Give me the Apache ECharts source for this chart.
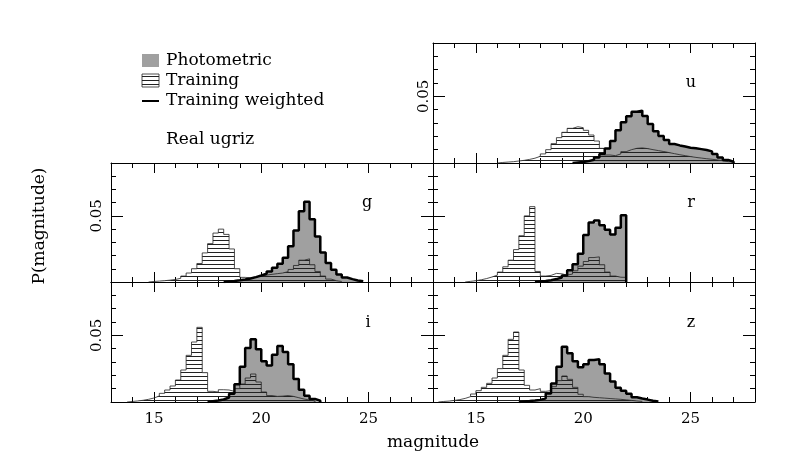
<!DOCTYPE html>
<html>
<head>
<meta charset="utf-8">
<script src="https://cdn.jsdelivr.net/npm/echarts@6/dist/echarts.min.js"></script>
<style>
  html, body { margin: 0; padding: 0; background: #fff; }
  #chart { width: 797px; height: 464px; }
</style>
</head>
<body>
<div id="chart"></div>
<script>
// histogram bin width in magnitudes
var BIN = 0.25;
var bands = ['u', 'g', 'r', 'i', 'z'];
var xTicksMajor = [15, 20, 25];
var yTicksMajor = [0.05];

// first bin edge of each histogram, band order u g r i z
var photoStart = [19.5, 18.25, 17.75, 17.5, 17.0];
var trainStart = [16.0, 14.75, 14.5, 13.75, 13.25];
var weightStart = [19.5, 18.25, 17.75, 17.5, 17.0];

// Photometric
var photoU = [0.0003, 0.0007, 0.0012, 0.0022, 0.0040, 0.0065, 0.0105, 0.0160, 0.0240, 0.0300, 0.0345, 0.0380, 0.0390, 0.0350, 0.0290, 0.0235, 0.0200, 0.0170, 0.0140, 0.0130, 0.0122, 0.0113, 0.0108, 0.0102, 0.0095, 0.0085, 0.0065, 0.0040, 0.0022, 0.0008];
var photoG = [0.0003, 0.0007, 0.0012, 0.0018, 0.0026, 0.0035, 0.0047, 0.0060, 0.0078, 0.0105, 0.0135, 0.0180, 0.0265, 0.0385, 0.0530, 0.0600, 0.0470, 0.0340, 0.0220, 0.0140, 0.0090, 0.0055, 0.0033, 0.0022, 0.0012, 0.0005];
var photoR = [0.0003, 0.0007, 0.0013, 0.0020, 0.0032, 0.0048, 0.0085, 0.0130, 0.0210, 0.0350, 0.0445, 0.0460, 0.0425, 0.0390, 0.0355, 0.0405, 0.0500];
var photoI = [0.0005, 0.0010, 0.0018, 0.0032, 0.0060, 0.0130, 0.0260, 0.0400, 0.0465, 0.0390, 0.0300, 0.0270, 0.0350, 0.0415, 0.0370, 0.0280, 0.0170, 0.0090, 0.0045, 0.0022, 0.0008];
var photoZ = [0.0003, 0.0006, 0.0010, 0.0014, 0.0025, 0.0060, 0.0135, 0.0260, 0.0410, 0.0360, 0.0300, 0.0255, 0.0280, 0.0310, 0.0315, 0.0280, 0.0210, 0.0150, 0.0105, 0.0082, 0.0060, 0.0035, 0.0025, 0.0018, 0.0008, 0.0003];

// Training
var trainU = [0.0004, 0.0007, 0.0010, 0.0015, 0.0020, 0.0027, 0.0036, 0.0050, 0.0068, 0.0100, 0.0145, 0.0190, 0.0230, 0.0260, 0.0272, 0.0265, 0.0245, 0.0210, 0.0165, 0.0110, 0.0060, 0.0055, 0.0068, 0.0085, 0.0100, 0.0110, 0.0113, 0.0108, 0.0100, 0.0093, 0.0086, 0.0078, 0.0070, 0.0062, 0.0055, 0.0048, 0.0042, 0.0037, 0.0032, 0.0028, 0.0023, 0.0017, 0.0010, 0.0004];
var trainG = [0.0004, 0.0007, 0.0010, 0.0014, 0.0019, 0.0028, 0.0045, 0.0068, 0.0100, 0.0140, 0.0220, 0.0290, 0.0370, 0.0400, 0.0360, 0.0250, 0.0100, 0.0035, 0.0032, 0.0038, 0.0045, 0.0052, 0.0058, 0.0063, 0.0068, 0.0078, 0.0095, 0.0125, 0.0165, 0.0175, 0.0130, 0.0080, 0.0045, 0.0022, 0.0010, 0.0004];
var trainR = [0.0005, 0.0010, 0.0017, 0.0026, 0.0038, 0.0052, 0.0075, 0.0115, 0.0165, 0.0245, 0.0350, 0.0500, 0.0570, 0.0080, 0.0045, 0.0050, 0.0065, 0.0062, 0.0052, 0.0060, 0.0085, 0.0120, 0.0155, 0.0185, 0.0190, 0.0130, 0.0075, 0.0045, 0.0036, 0.0035];
var trainI = [0.0004, 0.0008, 0.0013, 0.0020, 0.0030, 0.0045, 0.0065, 0.0090, 0.0120, 0.0165, 0.0240, 0.0350, 0.0450, 0.0560, 0.0220, 0.0080, 0.0075, 0.0092, 0.0090, 0.0080, 0.0100, 0.0135, 0.0180, 0.0210, 0.0150, 0.0075, 0.0048, 0.0042, 0.0044, 0.0048, 0.0042, 0.0032, 0.0022, 0.0015, 0.0008];
var trainZ = [0.0004, 0.0007, 0.0012, 0.0018, 0.0027, 0.0040, 0.0060, 0.0085, 0.0110, 0.0140, 0.0180, 0.0250, 0.0350, 0.0470, 0.0525, 0.0240, 0.0125, 0.0090, 0.0100, 0.0080, 0.0085, 0.0115, 0.0160, 0.0195, 0.0170, 0.0110, 0.0058, 0.0040, 0.0035, 0.0032, 0.0029, 0.0026, 0.0023, 0.0020, 0.0016, 0.0012, 0.0008, 0.0004];

// Training weighted
var weightU = [0.0004, 0.0008, 0.0014, 0.0024, 0.0042, 0.0068, 0.0108, 0.0165, 0.0245, 0.0305, 0.0350, 0.0384, 0.0393, 0.0352, 0.0292, 0.0238, 0.0203, 0.0172, 0.0142, 0.0132, 0.0124, 0.0115, 0.0110, 0.0104, 0.0097, 0.0087, 0.0067, 0.0042, 0.0023, 0.0009];
var weightG = [0.0004, 0.0008, 0.0013, 0.0019, 0.0027, 0.0037, 0.0049, 0.0062, 0.0080, 0.0108, 0.0138, 0.0184, 0.0270, 0.0390, 0.0536, 0.0606, 0.0475, 0.0344, 0.0224, 0.0143, 0.0092, 0.0056, 0.0034, 0.0022, 0.0012, 0.0005];
var weightR = [0.0004, 0.0008, 0.0014, 0.0022, 0.0034, 0.0050, 0.0088, 0.0134, 0.0214, 0.0355, 0.0450, 0.0466, 0.0430, 0.0395, 0.0360, 0.0410, 0.0505];
var weightI = [0.0006, 0.0011, 0.0019, 0.0034, 0.0062, 0.0134, 0.0265, 0.0405, 0.0470, 0.0395, 0.0305, 0.0274, 0.0355, 0.0420, 0.0375, 0.0284, 0.0173, 0.0092, 0.0046, 0.0023, 0.0009];
var weightZ = [0.0004, 0.0007, 0.0011, 0.0016, 0.0027, 0.0063, 0.0138, 0.0265, 0.0415, 0.0365, 0.0305, 0.0260, 0.0284, 0.0315, 0.0320, 0.0284, 0.0214, 0.0153, 0.0107, 0.0084, 0.0061, 0.0036, 0.0026, 0.0018, 0.0009, 0.0004];

var photoData = [photoU, photoG, photoR, photoI, photoZ];
var trainData = [trainU, trainG, trainR, trainI, trainZ];
var weightData = [weightU, weightG, weightR, weightI, weightZ];

// panel placement: u top right, g r middle, i z bottom
var panels = [
  { left: 433, top: 43, height: 120, xLabel: false, yLabel: true, yMargin: 1, letter: [691, 83] },
  { left: 111, top: 163, height: 119, xLabel: false, yLabel: true, yMargin: 6, letter: [367, 203] },
  { left: 433, top: 163, height: 119, xLabel: false, yLabel: false, yMargin: 6, letter: [691, 203] },
  { left: 111, top: 282, height: 120, xLabel: true, yLabel: true, yMargin: 6, letter: [368, 323] },
  { left: 433, top: 282, height: 120, xLabel: true, yLabel: false, yMargin: 6, letter: [691, 323] }
];
var PANEL_W = 322;
var FONT = '"DejaVu Serif", serif';

// horizontal hatching used for the training histogram
var hatch = document.createElement('canvas');
hatch.width = 4;
hatch.height = 4;
var hctx = hatch.getContext('2d');
hctx.fillStyle = '#222';
hctx.fillRect(0, 0, 4, 1);
var hatchFill = { image: hatch, repeat: 'repeat' };

// left bin edges -> step points, closed to zero on both ends
function toSteps(start, vals) {
  var pts = [[start, 0]];
  for (var i = 0; i < vals.length; i++) {
    pts.push([start + i * BIN, vals[i]]);
  }
  pts.push([start + vals.length * BIN, 0]);
  return pts;
}

function xAxisDef(gi, pos, major, showLabel) {
  return {
    type: 'value', gridIndex: gi, position: pos,
    min: 13, max: 28, interval: 1,
    axisLine: { show: !major, onZero: false, lineStyle: { color: '#000', width: 1 } },
    axisTick: major
      ? { show: true, inside: true, length: 10, customValues: xTicksMajor, lineStyle: { color: '#000', width: 1 } }
      : { show: true, inside: true, length: 5, lineStyle: { color: '#000', width: 1 } },
    axisLabel: showLabel
      ? { show: true, customValues: xTicksMajor, margin: 10, color: '#000', fontFamily: FONT, fontSize: 15 }
      : { show: false },
    splitLine: { show: false }
  };
}

function yAxisDef(gi, pos, major, showLabel, margin) {
  return {
    type: 'value', gridIndex: gi, position: pos,
    min: 0, max: 0.09, interval: 0.01,
    axisLine: { show: !major, onZero: false, lineStyle: { color: '#000', width: 1 } },
    axisTick: major
      ? { show: true, inside: true, length: 12, customValues: yTicksMajor, lineStyle: { color: '#000', width: 1 } }
      : { show: true, inside: true, length: 5, lineStyle: { color: '#000', width: 1 } },
    axisLabel: showLabel
      ? { show: true, customValues: yTicksMajor, rotate: 90, margin: margin, color: '#000', fontFamily: FONT, fontSize: 15,
          formatter: function (v) { return v.toFixed(2); } }
      : { show: false },
    splitLine: { show: false }
  };
}

var grids = [], xAxes = [], yAxes = [], series = [], graphics = [];

panels.forEach(function (p, i) {
  grids.push({ left: p.left, top: p.top, width: PANEL_W, height: p.height, show: false });
  xAxes.push(xAxisDef(i, 'bottom', false, false));
  xAxes.push(xAxisDef(i, 'bottom', true, p.xLabel));
  xAxes.push(xAxisDef(i, 'top', false, false));
  xAxes.push(xAxisDef(i, 'top', true, false));
  yAxes.push(yAxisDef(i, 'left', false, false, 0));
  yAxes.push(yAxisDef(i, 'left', true, p.yLabel, p.yMargin));
  yAxes.push(yAxisDef(i, 'right', false, false, 0));
  yAxes.push(yAxisDef(i, 'right', true, false, 0));

  var common = { type: 'line', step: 'end', showSymbol: false, silent: true, xAxisIndex: i * 4, yAxisIndex: i * 4 };
  series.push(Object.assign({}, common, {
    name: 'Photometric',
    data: toSteps(photoStart[i], photoData[i]),
    lineStyle: { width: 0 },
    areaStyle: { color: '#a0a0a0', opacity: 1 },
    z: 1
  }));
  series.push(Object.assign({}, common, {
    name: 'Training',
    data: toSteps(trainStart[i], trainData[i]),
    lineStyle: { width: 0.8, color: '#222' },
    areaStyle: { color: hatchFill, opacity: 1 },
    z: 2
  }));
  series.push(Object.assign({}, common, {
    name: 'Training weighted',
    data: toSteps(weightStart[i], weightData[i]),
    lineStyle: { width: 2.5, color: '#000' },
    z: 3
  }));

  graphics.push({
    type: 'text', x: p.letter[0], y: p.letter[1],
    style: { text: bands[i], font: '16px ' + FONT, fill: '#000', align: 'center', verticalAlign: 'middle' }
  });
});

// legend swatches and texts
graphics.push(
  { type: 'rect', shape: { x: 142, y: 54, width: 17, height: 13 }, style: { fill: '#a0a0a0' } },
  { type: 'rect', shape: { x: 142, y: 74, width: 17, height: 13 }, style: { fill: hatchFill, stroke: '#222', lineWidth: 0.8 } },
  { type: 'line', shape: { x1: 142, y1: 101, x2: 159, y2: 101 }, style: { stroke: '#000', lineWidth: 2 } },
  { type: 'text', x: 166, y: 61, style: { text: 'Photometric', font: '17px ' + FONT, fill: '#000', verticalAlign: 'middle' } },
  { type: 'text', x: 166, y: 81, style: { text: 'Training', font: '17px ' + FONT, fill: '#000', verticalAlign: 'middle' } },
  { type: 'text', x: 166, y: 101, style: { text: 'Training weighted', font: '17px ' + FONT, fill: '#000', verticalAlign: 'middle' } },
  { type: 'text', x: 166, y: 140, style: { text: 'Real ugriz', font: '17px ' + FONT, fill: '#000', verticalAlign: 'middle' } },
  { type: 'text', x: 433, y: 443, style: { text: 'magnitude', font: '17px ' + FONT, fill: '#000', align: 'center', verticalAlign: 'middle' } },
  { type: 'text', x: 40, y: 226, rotation: Math.PI / 2,
    style: { text: 'P(magnitude)', font: '17px ' + FONT, fill: '#000', align: 'center', verticalAlign: 'middle' } }
);

var chart = echarts.init(document.getElementById('chart'));
chart.setOption({
  animation: false,
  backgroundColor: '#fff',
  grid: grids,
  xAxis: xAxes,
  yAxis: yAxes,
  series: series,
  graphic: graphics
});
</script>
</body>
</html>
